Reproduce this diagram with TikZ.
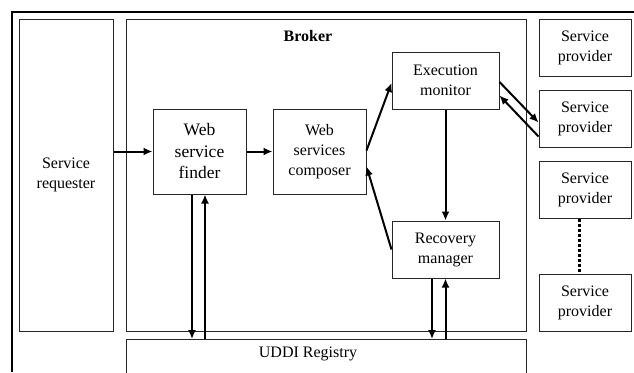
\documentclass[tikz,border=0pt]{standalone}
\usepackage{fontspec}
\setmainfont{Liberation Serif}
\usepackage{tikz}
\usetikzlibrary{arrows.meta, positioning}

\begin{document}
\begin{tikzpicture}[x=1pt, y=-1pt,
		box/.style={draw=black!85, line width=1pt, align=center, inner sep=0pt, font=\fontsize{16}{20}\selectfont},
		arr/.style={line width=2pt, -{Latex[length=9pt,width=8pt]}}]
	\useasboundingbox (0,0) rectangle (634,372);
	% Rahmen
	\draw[line width=2.6pt] (12,372) -- (12,12) -- (634,12);

	% Requester und Broker
	\node[box, minimum width=94pt, minimum height=312pt] (req) at (66,175) {Service\\requester};
	\node[box, minimum width=400pt, minimum height=312pt] (broker) at (326,175) {};
	\node[font=\fontsize{16}{20}\selectfont\bfseries] (brokerlabel) at (308,36) {Broker};

	% Broker-Komponenten
	\node[box, minimum width=93pt, minimum height=85pt, font=\fontsize{17.5}{21.5}\selectfont] (finder) at (199.5,151.5) {Web\\service\\finder};
	\node[box, minimum width=93pt, minimum height=85pt] (composer) at (319.5,151.5) {Web\\services\\composer};
	\node[box, minimum width=107pt, minimum height=57pt] (monitor) at (445.5,80.5) {Execution\\monitor};
	\node[box, minimum width=107pt, minimum height=57pt] (recovery) at (445.5,249.5) {Recovery\\manager};

	% Provider
	\foreach \n/\y in {sp1/47.5, sp2/118.5, sp3/189.5, sp4/302.5}
		\node[box, minimum width=92pt, minimum height=57pt] (\n) at (585,\y) {Service\\provider};
	\draw[line width=3pt, dash pattern=on 3pt off 2pt] ([xshift=-6pt]sp3.south) -- ([xshift=-6pt]sp4.north);

	% Registry
	\node[box, minimum width=400pt, minimum height=60pt, anchor=north] (uddi) at (326,339) {};
	\node[font=\fontsize{16}{20}\selectfont] (uddilabel) at (308,354) {UDDI Registry};

	% Pfeile
	\draw[arr] (req.east |- finder.west) -- (finder.west);
	\draw[arr] (finder.east) -- (composer.west);
	\draw[arr] ([yshift=1pt]composer.east) -- ([yshift=-2.5pt]monitor.west);
	\draw[arr] (recovery.west) -- ([yshift=-15pt]composer.east);
	\draw[arr] (monitor.south) -- (recovery.north);
	\draw[arr] ([yshift=-1.5pt]monitor.east) -- ([yshift=-4pt]sp2.west);
	\draw[arr] ([yshift=-18pt]sp2.west) -- ([yshift=-15pt]monitor.east);
	\draw[arr] ([xshift=-7.5pt]finder.south) -- ([xshift=-7.5pt]finder.south |- uddi.north);
	\draw[arr] ([xshift=5.5pt]finder.south |- uddi.north) -- ([xshift=5.5pt]finder.south);
	\draw[arr] ([xshift=-13.5pt]recovery.south) -- ([xshift=-13.5pt]recovery.south |- uddi.north);
	\draw[arr] (recovery.south |- uddi.north) -- (recovery.south);
\end{tikzpicture}
\end{document}
